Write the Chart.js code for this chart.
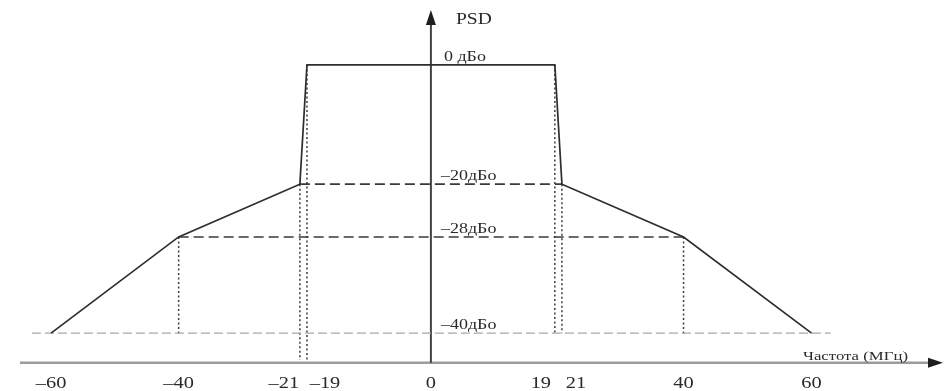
<!DOCTYPE html>
<html>
<head>
<meta charset="utf-8">
<script src="https://cdn.jsdelivr.net/npm/chart.js@4.4.1/dist/chart.umd.min.js"></script>
<style>
  body { margin: 0; background: #fff; }
  canvas { display: block; }
</style>
</head>
<body>
<canvas id="psdChart" width="946" height="391"></canvas>
<script>
  "use strict";

  // spectral mask, frequency in MHz, PSD in dBr
  const maskFreq = [-60, -40, -21, -19, 19, 21, 40, 60];
  const maskPsd = [-40, -28, -20, 0, 0, -20, -28, -40];

  const freqTicks = [-60, -40, -21, -19, 0, 19, 21, 40, 60];
  const freqTickLabels = ["–60", "–40", "–21", "–19", "0", "19", "21", "40", "60"];

  const levelValues = [0, -20, -28, -40];
  const levelLabels = ["0 дБо", "–20дБо", "–28дБо", "–40дБо"];

  // dashed reference levels and how far (±MHz) they reach
  const refLevels = [-20, -28, -40];
  const refReach = [21, 40, 63];

  // dotted drop lines
  const dropFreq = [-40, -21, -19, 19, 21, 40];
  const dropFrom = [-28, -20, 0, 0, -20, -28];
  const dropTo = [-40, -43.4, -43.4, -40, -40, -40];

  const psdMin = -43.75;
  const psdMax = 9;
  const freqMin = -68;
  const freqMax = 81;

  // the drawing is schematic, its axes are not evenly spaced:
  // value -> fraction of the plot (from top for dB, from left for MHz)
  const psdStops = [[-43.75, 0.928], [-40, 0.852], [-28, 0.606], [-20, 0.471], [0, 0.166], [9, 0.026]];
  const freqStops = [[-68, 0], [-21, 0.317], [-19, 0.3245], [19, 0.5865], [21, 0.594], [81, 1]];

  // label nudges where tick labels would collide
  const tickNudge = { "-21": -16, "-19": 18, "19": -14, "21": 14 };

  class BrokenScale extends Chart.LinearScale {
    _span() {
      return this.isHorizontal() ? [this.left, this.right] : [this.top, this.bottom];
    }
    getPixelForValue(value) {
      const s = this.options.stops;
      let i = 0;
      while (i < s.length - 2 && value > s[i + 1][0]) i++;
      const t = (value - s[i][0]) / (s[i + 1][0] - s[i][0]);
      const f = s[i][1] + t * (s[i + 1][1] - s[i][1]);
      const [a, b] = this._span();
      return a + f * (b - a);
    }
    getValueForPixel(pixel) {
      const s = this.options.stops;
      const [a, b] = this._span();
      const f = (pixel - a) / (b - a);
      const up = s[s.length - 1][1] > s[0][1];
      let i = 0;
      while (i < s.length - 2 && (up ? f > s[i + 1][1] : f < s[i + 1][1])) i++;
      const t = (f - s[i][1]) / (s[i + 1][1] - s[i][1]);
      return s[i][0] + t * (s[i + 1][0] - s[i][0]);
    }
  }
  BrokenScale.id = "broken";
  BrokenScale.defaults = Chart.LinearScale.defaults;
  Chart.register(BrokenScale);

  const serif = '"Liberation Serif", "DejaVu Serif", serif';

  const datasets = [];

  datasets.push({
    data: maskFreq.map((f, i) => ({ x: f, y: maskPsd[i] })),
    borderColor: "#2e2e2e",
    borderWidth: 1.7,
  });

  refLevels.forEach((lvl, i) => {
    const light = lvl === -40;
    datasets.push({
      data: [{ x: -refReach[i], y: lvl }, { x: refReach[i], y: lvl }],
      borderColor: light ? "#a8a8a8" : "#3a3a3a",
      borderWidth: light ? 1.3 : 1.6,
      borderDash: light ? [9, 4] : [10, 5],
    });
  });

  dropFreq.forEach((f, i) => {
    datasets.push({
      data: [{ x: f, y: dropFrom[i] }, { x: f, y: dropTo[i] }],
      borderColor: "#3c3c3c",
      borderWidth: 1.5,
      borderDash: [2, 2.5],
    });
  });

  function wideText(ctx, text, x, y, sx) {
    ctx.save();
    ctx.translate(x, y);
    ctx.scale(sx, 1);
    ctx.fillText(text, 0, 0);
    ctx.restore();
  }

  const overlay = {
    id: "overlay",
    beforeDatasetsDraw(chart) {
      const ctx = chart.ctx;
      const xs = chart.scales.x;
      const ys = chart.scales.y;
      const axisY = ys.getPixelForValue(psdMin);
      const axisX = xs.getPixelForValue(0);
      ctx.save();
      // frequency axis
      ctx.strokeStyle = "#9c9c9c";
      ctx.lineWidth = 2.5;
      ctx.beginPath();
      ctx.moveTo(20, axisY);
      ctx.lineTo(932, axisY);
      ctx.stroke();
      ctx.fillStyle = "#1e1e1e";
      ctx.beginPath();
      ctx.moveTo(943, axisY);
      ctx.lineTo(928, axisY - 5);
      ctx.lineTo(928, axisY + 5);
      ctx.closePath();
      ctx.fill();
      // PSD axis
      ctx.strokeStyle = "#444";
      ctx.lineWidth = 2;
      ctx.beginPath();
      ctx.moveTo(axisX, axisY);
      ctx.lineTo(axisX, 22);
      ctx.stroke();
      ctx.fillStyle = "#1e1e1e";
      ctx.beginPath();
      ctx.moveTo(axisX, 10);
      ctx.lineTo(axisX - 5, 25);
      ctx.lineTo(axisX + 5, 25);
      ctx.closePath();
      ctx.fill();
      ctx.restore();
    },
    afterDatasetsDraw(chart) {
      const ctx = chart.ctx;
      const xs = chart.scales.x;
      const ys = chart.scales.y;
      const axisX = xs.getPixelForValue(0);
      const axisY = ys.getPixelForValue(psdMin);
      ctx.save();
      ctx.fillStyle = "#2a2a2a";
      ctx.textBaseline = "alphabetic";
      ctx.textAlign = "left";

      ctx.font = "17px " + serif;
      wideText(ctx, "PSD", axisX + 25, 24, 1.15);

      ctx.font = "15px " + serif;
      levelValues.forEach((lvl, i) => {
        wideText(ctx, levelLabels[i], axisX + (lvl === 0 ? 13 : 10), ys.getPixelForValue(lvl) - 4, 1.2);
      });

      ctx.font = "13px " + serif;
      const title = "Частота (МГц)";
      const w = ctx.measureText(title).width;
      wideText(ctx, title, 803, axisY - 3, 105 / w);

      ctx.font = "17px " + serif;
      freqTicks.forEach((f, i) => {
        const nudge = tickNudge[String(f)] || 0;
        const tw = ctx.measureText(freqTickLabels[i]).width * 1.2;
        wideText(ctx, freqTickLabels[i], xs.getPixelForValue(f) + nudge - tw / 2, 388, 1.2);
      });
      ctx.restore();
    },
  };

  new Chart(document.getElementById("psdChart"), {
    type: "line",
    data: { datasets: datasets },
    options: {
      responsive: false,
      animation: false,
      layout: { padding: 0 },
      elements: {
        point: { radius: 0, hoverRadius: 0 },
        line: { tension: 0, fill: false },
      },
      plugins: {
        legend: { display: false },
        tooltip: { enabled: false },
      },
      scales: {
        x: { type: "broken", min: freqMin, max: freqMax, stops: freqStops, display: false },
        y: { type: "broken", min: psdMin, max: psdMax, stops: psdStops, display: false },
      },
    },
    plugins: [overlay],
  });
</script>
</body>
</html>
